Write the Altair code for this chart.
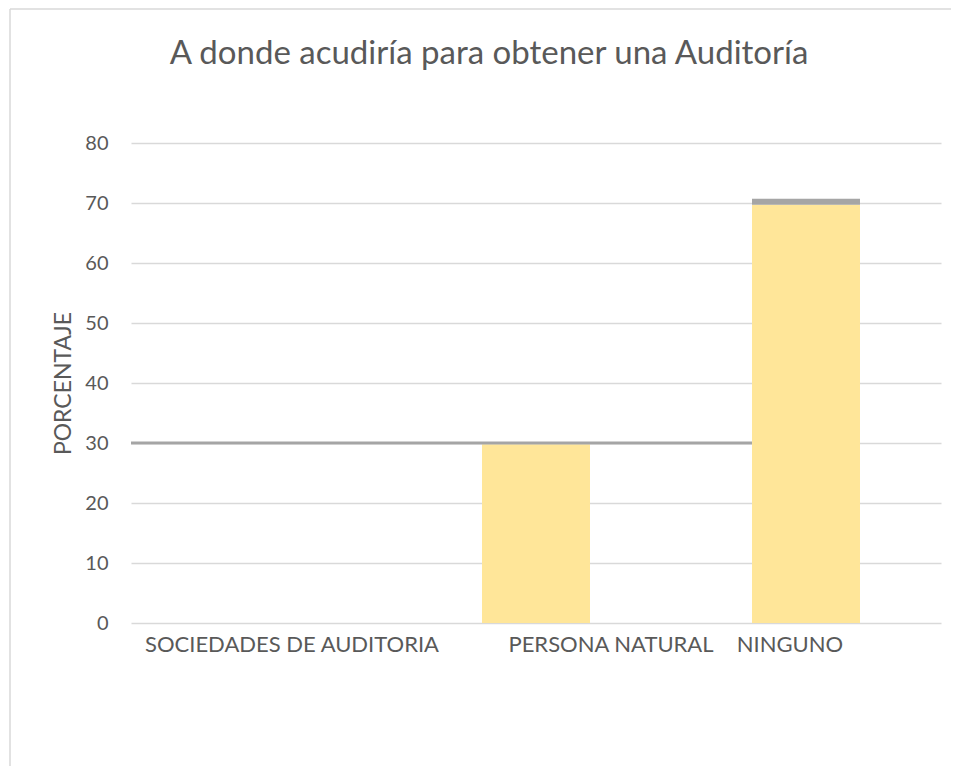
import altair as alt
import pandas as pd

categories = ["SOCIEDADES DE AUDITORIA", "PERSONA NATURAL", "NINGUNO"]
serie1 = [0, 29.8, 69.7]
serie2 = [0, 0, 1.0]
linea_valor = 30
linea_fin = "NINGUNO"
y_ticks = [0, 10, 20, 30, 40, 50, 60, 70, 80]

rows = []
for c, a, b in zip(categories, serie1, serie2):
    rows.append({"cat": c, "serie": "Serie 1", "orden": 1, "valor": a})
    rows.append({"cat": c, "serie": "Serie 2", "orden": 2, "valor": b})
df = pd.DataFrame(rows)
df_line = pd.DataFrame([{"y": linea_valor, "cat": linea_fin}])

FONT = "Lato"
TXT = "#595959"
GRID = "#D9D9D9"

xscale = alt.Scale(domain=categories, paddingInner=0.6, paddingOuter=0.3)

bars = alt.Chart(df).mark_bar().encode(
    x=alt.X("cat:N", scale=xscale, sort=categories,
            axis=alt.Axis(title=None, labelAngle=0, domain=False, ticks=False,
                          labelFontSize=22, labelColor=TXT, labelFont=FONT,
                          labelPadding=11, labelLimit=400,
                          labelOffset={"condition": [
                              {"test": "datum.value === 'SOCIEDADES DE AUDITORIA'", "value": 26},
                              {"test": "datum.value === 'PERSONA NATURAL'", "value": 75}],
                              "value": -16})),
    y=alt.Y("valor:Q", stack="zero",
            scale=alt.Scale(domain=[0, 80], nice=False),
            axis=alt.Axis(title="PORCENTAJE", values=y_ticks, domain=False, ticks=False,
                          gridColor=GRID, gridWidth=1.3,
                          labelFontSize=20, labelColor=TXT, labelFont=FONT,
                          labelPadding=23,
                          titleFontSize=23, titleColor=TXT, titleFont=FONT,
                          titleFontWeight="normal",
                          titleX=-68, titleY=240, titleAngle=270,
                          titleAlign="center", titleBaseline="middle")),
    color=alt.Color("serie:N", scale=alt.Scale(domain=["Serie 1", "Serie 2"],
                                               range=["#FFE699", "#A5A5A5"]),
                    legend=None),
    order=alt.Order("orden:Q", sort="ascending"),
)

line = alt.Chart(df_line).mark_rule(color="#A5A5A5", strokeWidth=3).encode(
    x=alt.X("cat:N", bandPosition=0),
    x2=alt.value(0),
    y=alt.Y("y:Q"),
)

border_left = alt.Chart(df_line).mark_rule(color=GRID, strokeWidth=1.5).encode(
    x=alt.value(-121), y=alt.value(-134), y2=alt.value(640))
border_top = alt.Chart(df_line).mark_rule(color=GRID, strokeWidth=1.5).encode(
    x=alt.value(-121), x2=alt.value(830), y=alt.value(-134))

chart = alt.layer(bars, line, border_left, border_top).properties(
    width=810, height=480,
    title=alt.Title("A donde acudiría para obtener una Auditoría",
                    fontSize=33, font=FONT, color=TXT, fontWeight="normal",
                    anchor="middle", frame="group", baseline="alphabetic",
                    dx=-47, offset=-89),
    autosize=alt.AutoSizeParams(type="none"),
    padding={"left": 123, "top": 135, "right": 10, "bottom": 143},
).configure_view(stroke=None).configure(background="white")

chart = chart.configure_view(stroke=None)

chart.save("out.html", embed_options={"renderer": "svg", "actions": False})
